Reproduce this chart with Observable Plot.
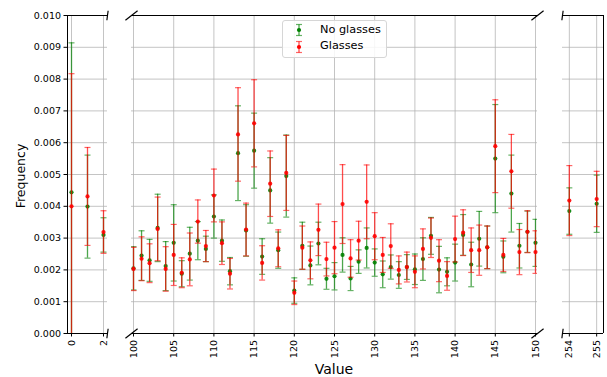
<!DOCTYPE html>
<html><head><meta charset="utf-8">
<script src="https://cdn.jsdelivr.net/npm/d3@7"></script>
<script src="https://cdn.jsdelivr.net/npm/@observablehq/plot@0.6"></script>
<style>
body{margin:0;background:#fff;}
#fig{position:relative;width:607px;height:377px;font-family:"DejaVu Sans",sans-serif;overflow:hidden;background:#fff}
.panel{position:absolute;top:0}
#ylabel{position:absolute;left:20px;top:176px;transform:translate(-50%,-50%) rotate(-90deg);font-size:12.5px;white-space:nowrap;color:#000}
#xlabel{position:absolute;left:334px;top:369px;transform:translate(-50%,-50%);font-size:14px;white-space:nowrap;color:#000}
#legend{position:absolute;left:282px;top:20px;width:103px;height:36px;border:1px solid #d6d6d6;border-radius:3px;background:rgba(255,255,255,0.85);font-size:11.3px}
#legend .row{position:absolute;left:0;height:16px;display:flex;align-items:center}
#legend svg{position:absolute;left:10px}
#legend span{position:absolute;left:37px;white-space:nowrap}
</style></head><body><div id="fig"></div>
<script>
// Data
const xValues = [0,1,2,100,101,102,103,104,105,106,107,108,109,110,111,112,113,114,115,116,117,118,119,120,121,122,123,124,125,126,127,128,129,130,131,132,133,134,135,136,137,138,139,140,141,142,143,144,145,146,147,148,149,150,254,255];
const noGlasses = [0.00444,0.00399,0.00310,0.00205,0.00245,0.00230,0.00332,0.00212,0.00285,0.00188,0.00251,0.00292,0.00266,0.00368,0.00292,0.00196,0.00567,0.00324,0.00575,0.00242,0.00450,0.00262,0.00495,0.00135,0.00276,0.00214,0.00283,0.00172,0.00180,0.00247,0.00173,0.00226,0.00269,0.00223,0.00186,0.00209,0.00184,0.00209,0.00202,0.00234,0.00307,0.00201,0.00194,0.00223,0.00310,0.00217,0.00298,0.00271,0.00550,0.00241,0.00440,0.00276,0.00320,0.00285,0.00385,0.00408];
const noGlassesErr = [0.00470,0.00162,0.00054,0.00068,0.00078,0.00066,0.00106,0.00077,0.00120,0.00041,0.00083,0.00060,0.00040,0.00068,0.00065,0.00043,0.00149,0.00081,0.00118,0.00056,0.00103,0.00057,0.00129,0.00040,0.00074,0.00061,0.00067,0.00033,0.00043,0.00054,0.00038,0.00037,0.00063,0.00043,0.00042,0.00038,0.00042,0.00039,0.00048,0.00067,0.00058,0.00073,0.00044,0.00058,0.00064,0.00070,0.00086,0.00067,0.00170,0.00050,0.00121,0.00070,0.00065,0.00074,0.00073,0.00090];
const glasses = [0.00400,0.00431,0.00319,0.00203,0.00235,0.00221,0.00329,0.00203,0.00247,0.00191,0.00233,0.00352,0.00275,0.00434,0.00284,0.00188,0.00626,0.00327,0.00661,0.00222,0.00471,0.00268,0.00505,0.00128,0.00270,0.00230,0.00326,0.00234,0.00270,0.00407,0.00236,0.00292,0.00414,0.00306,0.00247,0.00275,0.00200,0.00209,0.00194,0.00266,0.00301,0.00229,0.00181,0.00297,0.00317,0.00262,0.00262,0.00271,0.00589,0.00247,0.00510,0.00256,0.00320,0.00256,0.00418,0.00423];
const glassesErr = [0.00417,0.00154,0.00067,0.00068,0.00069,0.00061,0.00100,0.00070,0.00096,0.00047,0.00083,0.00068,0.00049,0.00083,0.00067,0.00048,0.00147,0.00083,0.00137,0.00054,0.00103,0.00058,0.00118,0.00037,0.00068,0.00058,0.00081,0.00053,0.00082,0.00124,0.00059,0.00061,0.00116,0.00074,0.00055,0.00070,0.00044,0.00047,0.00050,0.00063,0.00062,0.00066,0.00045,0.00072,0.00072,0.00070,0.00079,0.00067,0.00146,0.00052,0.00116,0.00071,0.00066,0.00067,0.00110,0.00087];
const seriesNames = ["No glasses","Glasses"];
const seriesColors = ["#008000","#ff0000"];
const ticks1 = [0,2];
const ticks2 = [100,105,110,115,120,125,130,135,140,145,150];
const ticks3 = [254,255];
const yTicks = [0,0.001,0.002,0.003,0.004,0.005,0.006,0.007,0.008,0.009,0.010];

const rows = [];
xValues.forEach((x,i)=>{
  rows.push({x, y: noGlasses[i], e: noGlassesErr[i], s: seriesNames[0]});
});
xValues.forEach((x,i)=>{
  rows.push({x, y: glasses[i], e: glassesErr[i], s: seriesNames[1]});
});

const capSymbol = {draw(ctx, size){ const r = Math.sqrt(size/Math.PI); ctx.moveTo(-r,0); ctx.lineTo(r,0); }};

const panels = [
  {domain:[-0.25,2.25], left:0, width:112, ml:67, mr:5, ticks:ticks1, leftSpine:true, rightSpine:false, breakLeft:false, breakRight:true, yAxis:true},
  {domain:[99.75,150.25], left:120, width:425, ml:11, mr:8, ticks:ticks2, leftSpine:false, rightSpine:false, breakLeft:true, breakRight:true, yAxis:false},
  {domain:[253.75,255.25], left:550, width:57, ml:12, mr:4, ticks:ticks3, leftSpine:false, rightSpine:true, breakLeft:true, breakRight:false, yAxis:false}
];
const yDomain = [0, 0.010];
const fig = document.getElementById("fig");

panels.forEach(p => {
  const data = rows.filter(r => r.x >= p.domain[0] && r.x <= p.domain[1]);
  const d = 0.015;
  const dx = d*(p.domain[1]-p.domain[0]);
  const dy = d*(yDomain[1]-yDomain[0]);
  const breaks = [];
  const edges = [];
  if (p.breakLeft) edges.push(p.domain[0]);
  if (p.breakRight) edges.push(p.domain[1]);
  edges.forEach(ex => yDomain.forEach(ey => breaks.push({x1: ex-dx, y1: ey-dy, x2: ex+dx, y2: ey+dy})));
  const spinesX = [];
  if (p.leftSpine) spinesX.push(p.domain[0]);
  if (p.rightSpine) spinesX.push(p.domain[1]);
  const marks = [
    Plot.ruleY(yTicks, {stroke:"#b0b0b0", strokeOpacity:0.75, strokeWidth:1}),
    Plot.ruleX(p.ticks, {stroke:"#b0b0b0", strokeOpacity:0.75, strokeWidth:1}),
  ];
  seriesNames.forEach((name, k) => {
    const sd = data.filter(r => r.s === name);
    const c = seriesColors[k];
    marks.push(
      Plot.ruleX(sd, {x:"x", y1: r=>r.y-r.e, y2: r=>r.y+r.e, stroke:c, strokeOpacity:0.7, strokeWidth:1.3, clip:true}),
      Plot.dot(sd, {x:"x", y: r=>r.y+r.e, symbol: capSymbol, r:3, stroke:c, fill:"none", strokeOpacity:0.6, strokeWidth:1.2, clip:true}),
      Plot.dot(sd, {x:"x", y: r=>r.y-r.e, symbol: capSymbol, r:3, stroke:c, fill:"none", strokeOpacity:0.6, strokeWidth:1.2, clip:true}),
      Plot.dot(sd, {x:"x", y:"y", r:2.1, fill:c, fillOpacity:0.9, stroke:"none"})
    );
  });
  marks.push(
    Plot.ruleY(yDomain, {stroke:"#000", strokeWidth:1}),
    Plot.ruleX(spinesX, {stroke:"#000", strokeWidth:1}),
    Plot.link(breaks, {x1:"x1", y1:"y1", x2:"x2", y2:"y2", stroke:"#000", strokeWidth:1.2}),
    Plot.axisX(p.ticks, {tickRotate:-90, tickFormat: v => String(v), tickSize:3.5, tickPadding:3, label:null, fontSize:9.5})
  );
  if (p.yAxis) marks.push(Plot.axisY(yTicks, {tickFormat: d3.format(".3f"), tickSize:3.5, tickPadding:3, label:null, fontSize:9.5}));
  const chart = Plot.plot({
    width: p.width, height: 377,
    marginLeft: p.ml, marginRight: p.mr, marginTop: 15, marginBottom: 44,
    x: {domain: p.domain},
    y: {domain: yDomain, axis: p.yAxis ? undefined : null},
    style: {fontFamily: "DejaVu Sans, sans-serif", fontSize: "9.5px", background: "transparent", overflow: "visible", color:"#000"},
    marks
  });
  chart.classList.add("panel");
  chart.style.left = p.left + "px";
  fig.appendChild(chart);
});

// axis titles
const yl = document.createElement("div"); yl.id = "ylabel"; yl.textContent = "Frequency"; fig.appendChild(yl);
const xl = document.createElement("div"); xl.id = "xlabel"; xl.textContent = "Value"; fig.appendChild(xl);

// legend
const lg = document.createElement("div"); lg.id = "legend";
seriesNames.forEach((name, k) => {
  const c = seriesColors[k];
  const top = 2 + k*16.5;
  const icon = `<svg width="12" height="14" style="top:${top}px" viewBox="0 0 12 14">
    <line x1="6" y1="1.5" x2="6" y2="12.5" stroke="${c}" stroke-opacity="0.7" stroke-width="1.3"/>
    <line x1="3" y1="1.5" x2="9" y2="1.5" stroke="${c}" stroke-opacity="0.6" stroke-width="1.2"/>
    <line x1="3" y1="12.5" x2="9" y2="12.5" stroke="${c}" stroke-opacity="0.6" stroke-width="1.2"/>
    <circle cx="6" cy="7" r="2.1" fill="${c}"/></svg>`;
  lg.insertAdjacentHTML("beforeend", icon + `<span style="top:${top-0.5}px">${name}</span>`);
});
fig.appendChild(lg);
</script>
</body></html>
